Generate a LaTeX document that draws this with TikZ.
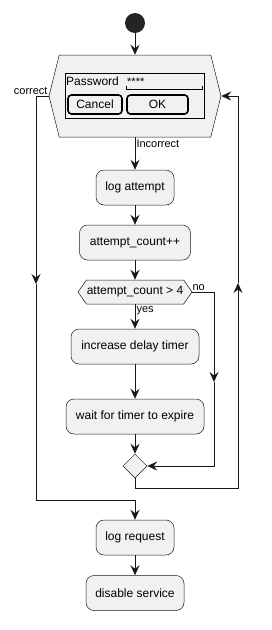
\documentclass[tikz,border=0pt]{standalone}
\usepackage{fontspec}
\setmainfont{Liberation Sans}
\usetikzlibrary{arrows.meta,positioning,shapes.geometric,shapes.symbols}
\definecolor{actfill}{HTML}{F1F1F1}
\definecolor{actline}{HTML}{181818}

\begin{document}
\begin{tikzpicture}[x=1pt,y=-1pt,
    act/.style={draw=actline,fill=actfill,rounded corners=8pt,line width=0.5pt,
      minimum height=35pt,inner sep=0pt,font=\fontsize{12}{14}\selectfont},
    hexa/.style={draw=actline,fill=actfill,line width=0.5pt,signal,
      signal from=nowhere,signal to=west and east,inner sep=0pt,font=\fontsize{12}{14}\selectfont},
    flow/.style={draw=actline,line width=1pt,-{Stealth[length=10pt,width=9pt,inset=3.5pt]}},
    line/.style={draw=actline,line width=1pt},
    lbl/.style={font=\fontsize{11}{13}\selectfont,inner sep=1pt},
    btn/.style={draw=black,line width=1.6pt,rounded corners=3.5pt,minimum height=19pt,
      inner sep=0pt,font=\fontsize{12}{14}\selectfont}]
\useasboundingbox (0,0) rectangle (272,630);

% start and login form
\node[circle,fill=actline!95,minimum size=20pt,inner sep=0pt] (start) at (135,23) {};
\node[hexa,minimum width=172pt,minimum height=82pt,signal pointer angle=152] (login) at (135,96) {};
\node[draw=black,line width=1pt,minimum width=139pt,minimum height=45pt] (form) at (134.5,95.5) {};
\node[anchor=west,inner sep=0pt,font=\fontsize{12}{14}\selectfont] (pwd) at (66,81) {Password};
\node[anchor=base west,inner sep=0pt,font=\fontsize{11}{12}\selectfont] (stars) at (127,85) {****};
\draw[black,line width=0.8pt] (126,86) -- (126,89) -- (202,89) -- (202,86);
\node[btn,minimum width=54pt] (cancel) at (95,104.5) {Cancel};
\node[btn,minimum width=61pt] (ok) at (157.5,104.5) {OK};

% activities
\node[act,minimum width=78pt] (logattempt) at (135,187.5) {log attempt};
\node[act,minimum width=111pt] (count) at (135,242.5) {attempt\_count++};
\node[hexa,minimum width=114pt,minimum height=24pt,signal pointer angle=110] (check) at (135,292) {attempt\_count > 4};
\node[act,minimum width=128pt] (delay) at (135,346.5) {increase delay timer};
\node[act,minimum width=138pt] (wait) at (135,416.5) {wait for timer to expire};
\node[diamond,draw=actline,fill=actfill,line width=0.5pt,minimum size=24pt,inner sep=0pt] (merge) at (135,466) {};
\node[act,minimum width=78pt] (logreq) at (135,537.5) {log request};
\node[act,minimum width=98pt] (disable) at (135,593) {disable service};

% turning points
\coordinate (cl) at (36,284);
\coordinate (jc) at (135,500);
\coordinate (cr) at (238,283);
\coordinate (lb) at (135,488);
\coordinate (cn) at (214,382);

\draw[flow] (start) -- (login.north);
\draw[flow] (login.south) -- node[lbl,pos=0.2,anchor=west] {Incorrect} (logattempt.north);
\draw[flow] (count) -- (check.north);
\draw[flow] (check.south) -- node[lbl,pos=0.25,anchor=west] {yes} (delay.north);
\draw[flow] (wait) -- (merge.north);
\foreach \a/\b in {logattempt/count,delay/wait,logreq/disable}
  \draw[flow] (\a) -- (\b);

% no branch
\draw[flow] (check.east) -| (cn);
\draw[flow] (cn) |- (merge.east);
\node[lbl,anchor=south west] at ([xshift=-1pt]check.east) {no};

% loop back
\draw[flow] (merge.south) -- (lb) -| (cr);
\draw[flow] (cr) |- (login.east);

% correct branch
\draw[flow] (login.west) -| (cl);
\draw[flow] (cl) |- (jc) -- (logreq.north);
\node[lbl,anchor=south east] at ([xshift=0pt]login.west) {correct};

\end{tikzpicture}
\end{document}
